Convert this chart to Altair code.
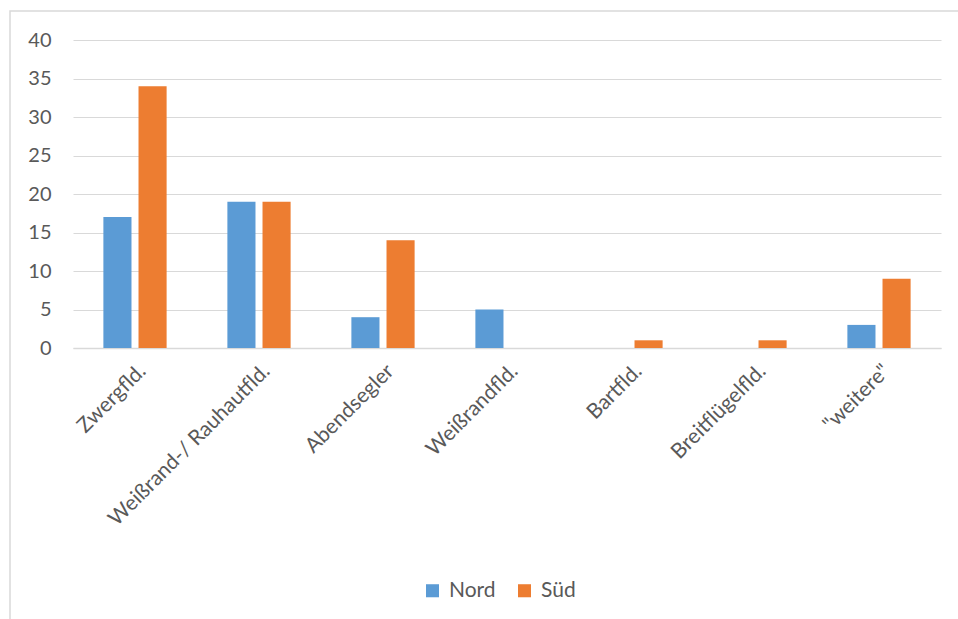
import altair as alt
import pandas as pd

categories = ["Zwergfld.", "Weißrand-/ Rauhautfld.", "Abendsegler", "Weißrandfld.",
              "Bartfld.", "Breitflügelfld.", "\"weitere\""]
nord = [17, 19, 4, 5, 0, 0, 3]
sued = [34, 19, 14, 0, 1, 1, 9]
series = ["Nord", "Süd"]
colors = ["#5B9BD5", "#ED7D31"]
y_ticks = [0, 5, 10, 15, 20, 25, 30, 35, 40]

rows = []
for c, n, s in zip(categories, nord, sued):
    rows.append({"Art": c, "Gebiet": "Nord", "Anzahl": n})
    rows.append({"Art": c, "Gebiet": "Süd", "Anzahl": s})
df = pd.DataFrame(rows)

FONT = "Lato"
GREY = "#595959"

bars = alt.Chart(df).mark_bar().encode(
    x=alt.X("Art:N", sort=categories, title=None,
            scale=alt.Scale(paddingInner=0.49, paddingOuter=0.245),
            axis=alt.Axis(labelAngle=-45, labelFontSize=21, labelColor=GREY,
                          labelFont=FONT, ticks=False, grid=False, domainColor="#D9D9D9",
                          domainWidth=1.5, labelPadding=12, labelLimit=400)),
    xOffset=alt.XOffset("Gebiet:N", sort=series,
                        scale=alt.Scale(paddingInner=0.2, paddingOuter=0)),
    y=alt.Y("Anzahl:Q", title=None,
            scale=alt.Scale(domain=[0, 40], nice=False),
            axis=alt.Axis(values=y_ticks, labelFontSize=20, labelColor=GREY,
                          labelFont=FONT, ticks=False, domain=False,
                          gridColor="#D9D9D9", gridWidth=1, labelPadding=22)),
    color=alt.Color("Gebiet:N", sort=series,
                    scale=alt.Scale(domain=series, range=colors),
                    legend=alt.Legend(title=None, orient="none", direction="horizontal",
                                      legendX=349, legendY=540,
                                      symbolType="square", symbolSize=170,
                                      symbolStrokeWidth=0,
                                      labelFontSize=21, labelColor=GREY, labelFont=FONT,
                                      columnPadding=18, labelOffset=6)),
)

frame = alt.Chart(pd.DataFrame({"k": [0]})).mark_rect(
    fill="transparent", stroke="#D9D9D9", strokeWidth=1.5
).encode(x=alt.value(-63), x2=alt.value(905), y=alt.value(-29), y2=alt.value(600))

chart = alt.layer(frame, bars).properties(
    width=868, height=308,
    background="white",
    autosize=alt.AutoSizeParams(type="none"),
    padding={"left": 73, "top": 40, "right": 17, "bottom": 271},
).configure_view(stroke="transparent", strokeWidth=0)

chart.save("out.html", embed_options={"renderer": "svg", "actions": False})
